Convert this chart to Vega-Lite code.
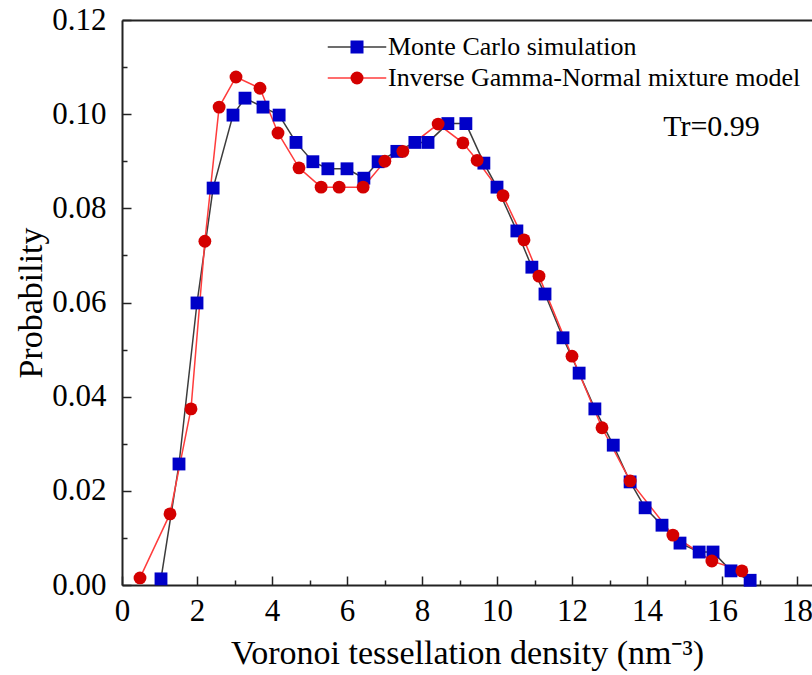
{
  "$schema": "https://vega.github.io/schema/vega-lite/v6.json",
  "width": 690,
  "height": 565,
  "autosize": {"type": "none"},
  "padding": {"left": 122, "top": 20, "right": 0, "bottom": 90},
  "background": "white",
  "config": {
    "view": {"stroke": null},
    "font": "Liberation Serif",
    "axis": {
      "labelFont": "Liberation Serif",
      "titleFont": "Liberation Serif",
      "labelColor": "black",
      "titleColor": "black",
      "titleFontWeight": "normal",
      "grid": false,
      "domainColor": "#222222",
      "domainWidth": 2,
      "tickColor": "#222222",
      "tickWidth": 1.5
    },
    "legend": {"padding": 0, "labelLimit": 0}
  },
  "data": {
    "values": [
      {"series": "Monte Carlo simulation", "x": 1.04, "y": 0.0013},
      {"series": "Monte Carlo simulation", "x": 1.52, "y": 0.0257},
      {"series": "Monte Carlo simulation", "x": 2.0, "y": 0.0599},
      {"series": "Monte Carlo simulation", "x": 2.43, "y": 0.0843},
      {"series": "Monte Carlo simulation", "x": 2.96, "y": 0.0998},
      {"series": "Monte Carlo simulation", "x": 3.28, "y": 0.1034},
      {"series": "Monte Carlo simulation", "x": 3.76, "y": 0.1015},
      {"series": "Monte Carlo simulation", "x": 4.19, "y": 0.0998},
      {"series": "Monte Carlo simulation", "x": 4.64, "y": 0.094},
      {"series": "Monte Carlo simulation", "x": 5.09, "y": 0.0899},
      {"series": "Monte Carlo simulation", "x": 5.49, "y": 0.0884},
      {"series": "Monte Carlo simulation", "x": 6.0, "y": 0.0884},
      {"series": "Monte Carlo simulation", "x": 6.45, "y": 0.0864},
      {"series": "Monte Carlo simulation", "x": 6.83, "y": 0.0899},
      {"series": "Monte Carlo simulation", "x": 7.33, "y": 0.0921},
      {"series": "Monte Carlo simulation", "x": 7.81, "y": 0.094},
      {"series": "Monte Carlo simulation", "x": 8.16, "y": 0.094},
      {"series": "Monte Carlo simulation", "x": 8.69, "y": 0.098},
      {"series": "Monte Carlo simulation", "x": 9.17, "y": 0.098},
      {"series": "Monte Carlo simulation", "x": 9.65, "y": 0.0896},
      {"series": "Monte Carlo simulation", "x": 10.0, "y": 0.0845},
      {"series": "Monte Carlo simulation", "x": 10.53, "y": 0.0752},
      {"series": "Monte Carlo simulation", "x": 10.93, "y": 0.0675},
      {"series": "Monte Carlo simulation", "x": 11.28, "y": 0.0618},
      {"series": "Monte Carlo simulation", "x": 11.76, "y": 0.0525},
      {"series": "Monte Carlo simulation", "x": 12.19, "y": 0.045},
      {"series": "Monte Carlo simulation", "x": 12.61, "y": 0.0374},
      {"series": "Monte Carlo simulation", "x": 13.1, "y": 0.0297},
      {"series": "Monte Carlo simulation", "x": 13.55, "y": 0.0219},
      {"series": "Monte Carlo simulation", "x": 13.95, "y": 0.0164},
      {"series": "Monte Carlo simulation", "x": 14.4, "y": 0.0127},
      {"series": "Monte Carlo simulation", "x": 14.88, "y": 0.0089},
      {"series": "Monte Carlo simulation", "x": 15.39, "y": 0.007},
      {"series": "Monte Carlo simulation", "x": 15.76, "y": 0.007},
      {"series": "Monte Carlo simulation", "x": 16.24, "y": 0.003},
      {"series": "Monte Carlo simulation", "x": 16.75, "y": 0.001},
      {"series": "Inverse Gamma-Normal mixture model", "x": 0.48, "y": 0.0015},
      {"series": "Inverse Gamma-Normal mixture model", "x": 1.28, "y": 0.0151},
      {"series": "Inverse Gamma-Normal mixture model", "x": 1.84, "y": 0.0374},
      {"series": "Inverse Gamma-Normal mixture model", "x": 2.21, "y": 0.073},
      {"series": "Inverse Gamma-Normal mixture model", "x": 2.59, "y": 0.1015},
      {"series": "Inverse Gamma-Normal mixture model", "x": 3.04, "y": 0.1079},
      {"series": "Inverse Gamma-Normal mixture model", "x": 3.68, "y": 0.1055},
      {"series": "Inverse Gamma-Normal mixture model", "x": 4.16, "y": 0.096},
      {"series": "Inverse Gamma-Normal mixture model", "x": 4.72, "y": 0.0886},
      {"series": "Inverse Gamma-Normal mixture model", "x": 5.31, "y": 0.0845},
      {"series": "Inverse Gamma-Normal mixture model", "x": 5.79, "y": 0.0845},
      {"series": "Inverse Gamma-Normal mixture model", "x": 6.43, "y": 0.0845},
      {"series": "Inverse Gamma-Normal mixture model", "x": 7.01, "y": 0.09},
      {"series": "Inverse Gamma-Normal mixture model", "x": 7.49, "y": 0.0921},
      {"series": "Inverse Gamma-Normal mixture model", "x": 8.43, "y": 0.0979},
      {"series": "Inverse Gamma-Normal mixture model", "x": 9.09, "y": 0.0939},
      {"series": "Inverse Gamma-Normal mixture model", "x": 9.47, "y": 0.0902},
      {"series": "Inverse Gamma-Normal mixture model", "x": 10.16, "y": 0.0827},
      {"series": "Inverse Gamma-Normal mixture model", "x": 10.72, "y": 0.0733},
      {"series": "Inverse Gamma-Normal mixture model", "x": 11.12, "y": 0.0656},
      {"series": "Inverse Gamma-Normal mixture model", "x": 12.0, "y": 0.0486},
      {"series": "Inverse Gamma-Normal mixture model", "x": 12.8, "y": 0.0334},
      {"series": "Inverse Gamma-Normal mixture model", "x": 13.55, "y": 0.0221},
      {"series": "Inverse Gamma-Normal mixture model", "x": 14.69, "y": 0.0106},
      {"series": "Inverse Gamma-Normal mixture model", "x": 15.73, "y": 0.0051},
      {"series": "Inverse Gamma-Normal mixture model", "x": 16.53, "y": 0.003}
    ]
  },
  "layer": [
    {
      "mark": {"type": "line", "strokeWidth": 1.5},
      "encoding": {
        "x": {
          "field": "x",
          "type": "quantitative",
          "scale": {"domain": [0, 18.4], "nice": false, "zero": false},
          "axis": {
            "orient": "bottom",
            "values": [0, 1, 2, 3, 4, 5, 6, 7, 8, 9, 10, 11, 12, 13, 14, 15, 16, 17, 18],
            "labelExpr": "datum.value % 2 === 0 ? format(datum.value, 'd') : ''",
            "tickSize": {"condition": {"test": "datum.value % 2 === 0", "value": -9}, "value": -5},
            "labelFontSize": 31,
            "labelPadding": 20,
            "labelOverlap": false,
            "labelFlush": false,
            "title": "Voronoi tessellation density (nm⁻³)",
            "titleFontSize": 34,
            "titlePadding": 6
          }
        },
        "y": {
          "field": "y",
          "type": "quantitative",
          "scale": {"domain": [0, 0.12], "nice": false},
          "axis": {
            "values": [0, 0.01, 0.02, 0.03, 0.04, 0.05, 0.06, 0.07, 0.08, 0.09, 0.1, 0.11, 0.12],
            "labelExpr": "round(datum.value * 100) % 2 === 0 ? format(datum.value, '.2f') : ''",
            "tickSize": {"condition": {"test": "round(datum.value * 100) % 2 === 0", "value": -9}, "value": -5},
            "labelFontSize": 31,
            "labelPadding": 25,
            "labelOverlap": false,
            "labelFlush": false,
            "title": "Probability",
            "titleFontSize": 34,
            "titlePadding": 3
          }
        },
        "stroke": {
          "field": "series",
          "type": "nominal",
          "sort": ["Monte Carlo simulation", "Inverse Gamma-Normal mixture model"],
          "scale": {"range": ["#3c3c3c", "#ff3c3c"]},
          "legend": {
            "orient": "none",
            "legendX": 222,
            "legendY": 14,
            "title": null,
            "symbolType": "M-4.5,0H4.5",
            "symbolSize": 169,
            "symbolStrokeWidth": 1.5,
            "labelFontSize": 26,
            "labelFont": "Liberation Serif",
            "labelColor": "transparent",
            "labelOffset": 18,
            "rowPadding": 5
          }
        }
      }
    },
    {
      "mark": {"type": "point", "filled": true, "opacity": 1, "size": 165},
      "encoding": {
        "x": {
          "field": "x",
          "type": "quantitative",
          "axis": {"orient": "top", "labels": false, "ticks": false, "title": null}
        },
        "y": {"field": "y", "type": "quantitative"},
        "fill": {
          "field": "series",
          "type": "nominal",
          "scale": {
            "domain": ["Monte Carlo simulation", "Inverse Gamma-Normal mixture model"],
            "range": ["#0000c8", "#d40000"]
          },
          "legend": {
            "orient": "none",
            "legendX": 222,
            "legendY": 14,
            "title": null,
            "symbolSize": 169,
            "symbolStrokeWidth": 0,
            "labelFontSize": 26,
            "labelFont": "Liberation Serif",
            "labelColor": "black",
            "labelOffset": 18,
            "rowPadding": 5
          }
        },
        "shape": {
          "field": "series",
          "type": "nominal",
          "scale": {
            "domain": ["Monte Carlo simulation", "Inverse Gamma-Normal mixture model"],
            "range": ["square", "circle"]
          },
          "legend": {
            "orient": "none",
            "legendX": 222,
            "legendY": 14,
            "title": null,
            "symbolSize": 169,
            "symbolStrokeWidth": 0,
            "labelFontSize": 26,
            "labelFont": "Liberation Serif",
            "labelColor": "black",
            "labelOffset": 18,
            "rowPadding": 5
          }
        }
      }
    },
    {
      "data": {"values": [{"label": "Tr=0.99"}]},
      "mark": {"type": "text", "fontSize": 30, "font": "Liberation Serif", "align": "center", "baseline": "middle", "color": "black"},
      "encoding": {
        "text": {"field": "label"},
        "x": {"datum": 15.72, "type": "quantitative", "axis": null},
        "y": {"datum": 0.0973, "type": "quantitative"}
      }
    }
  ],
  "resolve": {"axis": {"x": "independent"}}
}
